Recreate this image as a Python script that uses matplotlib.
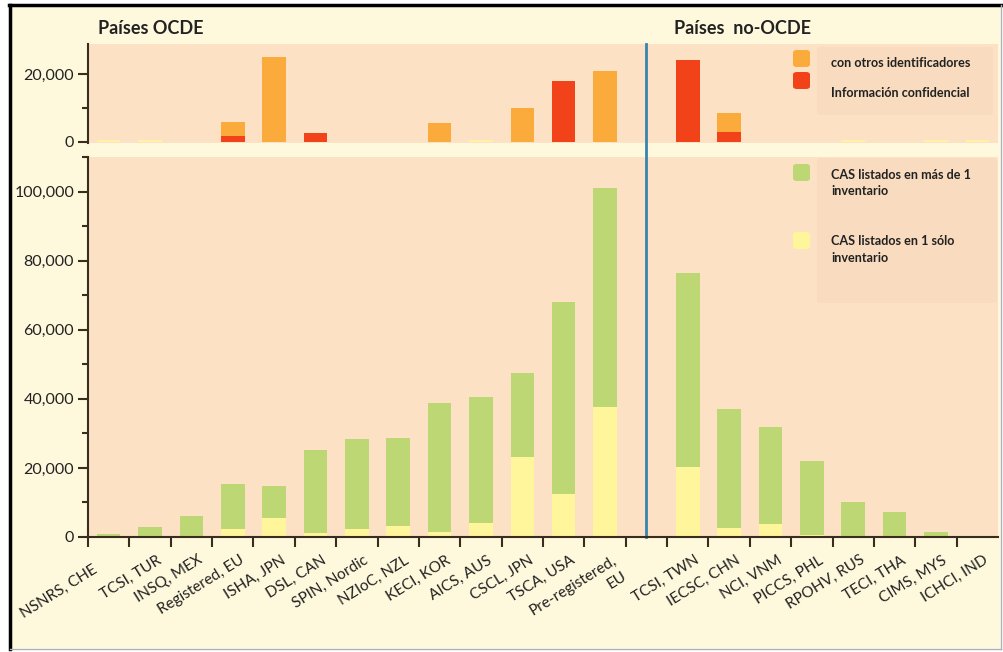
import matplotlib.pyplot as plt
from matplotlib.patches import Rectangle, FancyBboxPatch
from matplotlib.lines import Line2D
from matplotlib.ticker import FuncFormatter, MultipleLocator
from matplotlib.transforms import offset_copy
import math

plt.rcParams['font.family'] = ['Lato', 'DejaVu Sans']

# inventarios (OCDE, hueco, no-OCDE)
ocde = ['NSNRS, CHE', 'TCSI, TUR', 'INSQ, MEX', 'Registered, EU', 'ISHA, JPN',
        'DSL, CAN', 'SPIN, Nordic', 'NZIoC, NZL', 'KECI, KOR', 'AICS, AUS',
        'CSCL, JPN', 'TSCA, USA', 'Pre-registered,\nEU']
no_ocde = ['TCSI, TWN', 'IECSC, CHN', 'NCI, VNM', 'PICCS, PHL', 'RPOHV, RUS',
           'TECI, THA', 'CIMS, MYS', 'ICHCI, IND']

# panel inferior: CAS listados
cas_mas = [1000, 3000, 6000, 13200, 9200, 24000, 26200, 25500, 37400, 36400,
           24300, 55600, 63600,
           56000, 34400, 28000, 21400, 9800, 7300, 1500, 300]
cas_solo = [0, 0, 0, 2200, 5600, 1200, 2300, 3300, 1500, 4100,
            23300, 12400, 37500,
            20400, 2700, 3800, 700, 300, 0, 0, 0]

# panel superior: sin CAS
confidencial = [0, 0, 0, 1800, 0, 2600, 0, 0, 0, 0, 0, 17900, 0,
                24100, 2800, 0, 0, 0, 0, 0, 0]
otros_id = [0, 0, 0, 3900, 25100, 0, 0, 0, 5400, 0, 10000, 0, 20900,
            0, 5600, 0, 0, 0, 0, 0, 0]
pequenos = [600, 500, 0, 0, 0, 0, 0, 0, 0, 500, 0, 0, 0,
            0, 0, 0, 0, 600, 0, 500, 500]

labels = ocde + no_ocde
xpos = [i + 0.5 for i in range(13)] + [i + 0.5 for i in range(14, 22)]

W, H = 1004, 652
def fx(x):
    return x / W
def fy(y):
    return 1 - y / H

cream = '#fef8dc'
peach = '#fce1c4'
green = '#bcd773'
yellow = '#fff69c'
orange = '#fbab3c'
red = '#f2421a'
pale = '#fff2a6'
dark = '#3b2c20'
txt = '#222222'

fig = plt.figure(figsize=(W / 100, H / 100), dpi=100, facecolor='white')
fig.patches.append(Rectangle((fx(10), fy(648)), fx(1000) - fx(10), fy(5) - fy(648),
                             transform=fig.transFigure, facecolor=cream, edgecolor='none', zorder=-10))
fig.add_artist(Line2D([fx(10), fx(10)], [fy(649), fy(5)], color='black', lw=2.5))
fig.add_artist(Line2D([fx(9), fx(1001)], [fy(5), fy(5)], color='black', lw=2.5))
fig.add_artist(Line2D([fx(1001), fx(1001)], [fy(5), fy(649)], color='#b0b0b0', lw=1))
fig.add_artist(Line2D([fx(10), fx(1001)], [fy(649), fy(649)], color='#b0b0b0', lw=1))

ax_top = fig.add_axes([fx(88), fy(143), fx(998) - fx(88), fy(44) - fy(143)])
ax = fig.add_axes([fx(88), fy(537), fx(998) - fx(88), fy(157) - fy(537)])

fmt = FuncFormatter(lambda v, p: f'{int(v):,}')
bw = 0.57

# panel superior
ax_top.set_facecolor(peach)
ax_top.bar(xpos, pequenos, bw, color=pale)
ax_top.bar(xpos, confidencial, bw, color=red)
ax_top.bar(xpos, otros_id, bw, bottom=confidencial, color=orange)
ax_top.set_xlim(0, 22)
ax_top.set_ylim(-400, 28900)
ax_top.set_xticks([])
ax_top.yaxis.set_major_locator(MultipleLocator(20000))
ax_top.yaxis.set_minor_locator(MultipleLocator(10000))
ax_top.yaxis.set_major_formatter(fmt)
for s in ['top', 'right', 'bottom']:
    ax_top.spines[s].set_visible(False)
ax_top.spines['left'].set_color(dark)
ax_top.spines['left'].set_linewidth(1.5)

# panel inferior
ax.set_facecolor(peach)
ax.bar(xpos, cas_solo, bw, color=yellow)
ax.bar(xpos, cas_mas, bw, bottom=cas_solo, color=green)
ax.set_xlim(0, 22)
ax.set_ylim(0, 110000)
ax.yaxis.set_major_locator(MultipleLocator(20000))
ax.yaxis.set_minor_locator(MultipleLocator(10000))
ax.yaxis.set_major_formatter(fmt)
ax.set_xticks(range(22))
ax.set_xticklabels([])
for s in ['top', 'right']:
    ax.spines[s].set_visible(False)
for s in ['left', 'bottom']:
    ax.spines[s].set_color(dark)
    ax.spines[s].set_linewidth(1.5)

for a in (ax, ax_top):
    a.tick_params(axis='y', which='major', length=7, width=1.5, color=dark,
                  labelsize=11.5, labelcolor=txt, pad=3)
    a.tick_params(axis='y', which='minor', length=4, width=1.5, color=dark)
ax.tick_params(axis='x', which='major', length=7, width=1.5, color=dark)

# etiquetas giradas (una línea por texto)
ang = 32
fs = 11
salto = fs * 1.25
for i, (x, lab) in enumerate(zip(xpos, labels)):
    dx = 0.15
    dy = -0.042
    if i == 0:
        dx = -0.4
        dy = -0.068
    for k, linea in enumerate(lab.split('\n')):
        tr = offset_copy(ax.get_xaxis_transform(), fig=fig,
                         x=k * salto * math.sin(math.radians(ang)),
                         y=-k * salto * math.cos(math.radians(ang)), units='points')
        ax.text(x + dx, dy, linea, transform=tr, rotation=ang,
                rotation_mode='anchor', ha='right', va='top', fontsize=fs,
                color=txt)

# línea divisoria OCDE / no-OCDE
ax.axvline(13.5, ymin=0, ymax=(537 - 44) / (537 - 157), color='#3784b0', lw=2, clip_on=False)

# títulos
fig.text(fx(98), fy(29), 'Países OCDE', fontsize=13, fontweight='bold', color=txt, va='center')
fig.text(fx(674), fy(28), 'Países  no-OCDE', fontsize=13, fontweight='bold', color=txt, va='center')

# leyendas
def caja(x0, y0, x1, y1):
    fig.patches.append(FancyBboxPatch((fx(x0), fy(y1)), fx(x1) - fx(x0), fy(y0) - fy(y1),
                                      boxstyle='round,pad=0,rounding_size=0.004',
                                      transform=fig.transFigure, facecolor='#f9dcbf',
                                      edgecolor='none', zorder=5))

def muestra(y0, color):
    fig.patches.append(FancyBboxPatch((fx(793), fy(y0 + 17)), fx(810) - fx(793), fy(y0) - fy(y0 + 17),
                                      boxstyle='round,pad=0,rounding_size=0.004',
                                      transform=fig.transFigure, facecolor=color,
                                      edgecolor='none', zorder=6))

caja(817, 47, 993, 115)
muestra(50, orange)
muestra(72, red)
fig.text(fx(831), fy(63), 'con otros identificadores', fontsize=9.1, fontweight='bold',
         color=txt, va='center', zorder=7)
fig.text(fx(831), fy(93), 'Información confidencial', fontsize=9.1, fontweight='bold',
         color=txt, va='center', zorder=7)

caja(817, 158, 997, 303)
muestra(164, green)
muestra(232, yellow)
fig.text(fx(831), fy(169), 'CAS listados en más de 1\ninventario', fontsize=9.1, fontweight='bold',
         color=txt, va='top', linespacing=1.45, zorder=7)
fig.text(fx(831), fy(235), 'CAS listados en 1 sólo\ninventario', fontsize=9.1, fontweight='bold',
         color=txt, va='top', linespacing=1.45, zorder=7)

plt.savefig('out.png', dpi=100, facecolor=fig.get_facecolor())
